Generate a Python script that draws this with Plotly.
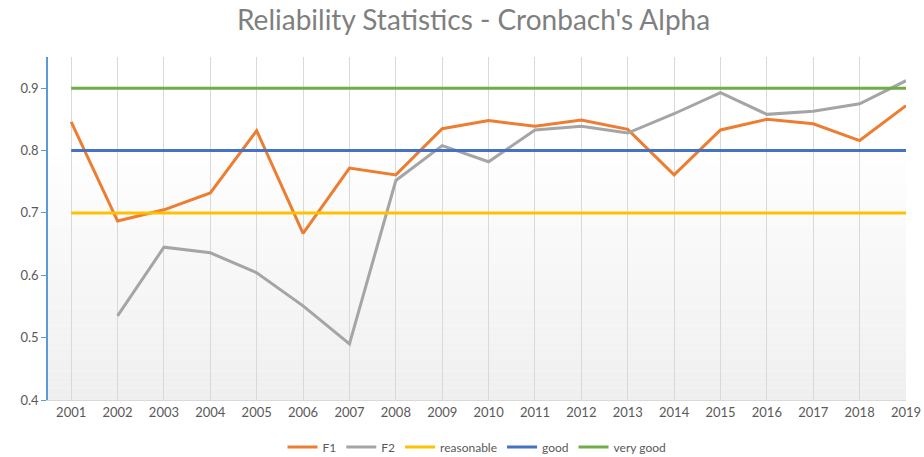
import plotly.graph_objects as go

years = [str(y) for y in range(2001, 2020)]
f1 = [0.846, 0.687, 0.705, 0.732, 0.832, 0.667, 0.772, 0.761, 0.835, 0.848,
      0.839, 0.849, 0.834, 0.761, 0.833, 0.850, 0.843, 0.816, 0.872]
f2 = [None, 0.535, 0.645, 0.636, 0.604, 0.551, 0.490, 0.752, 0.808, 0.782,
      0.833, 0.839, 0.828, 0.859, 0.893, 0.858, 0.863, 0.875, 0.912]
REASONABLE = 0.7
GOOD = 0.8
VERY_GOOD = 0.9
y_ticks = [0.4, 0.5, 0.6, 0.7, 0.8, 0.9]

xs = list(range(len(years)))
fig = go.Figure()

series = [
    ("F1", f1, "#ED7D31"),
    ("F2", f2, "#A5A5A5"),
    ("reasonable", [REASONABLE] * len(years), "#FFC000"),
    ("good", [GOOD] * len(years), "#4472C4"),
    ("very good", [VERY_GOOD] * len(years), "#70AD47"),
]
for name, vals, col in series:
    fig.add_trace(go.Scatter(x=xs, y=vals, name=name, mode="lines",
                             line=dict(color=col, width=3)))

# gradient background of the plot area (stacked bands, below grid)
n = 60
shapes = []
for i in range(n):
    t = i / (n - 1)  # 0 bottom -> 1 top
    g = 0xEF + (0xFF - 0xEF) * min(1.0, t / 0.75)
    g = int(round(g))
    shapes.append(dict(type="rect", xref="paper", yref="paper",
                       x0=0, x1=1, y0=i / n, y1=(i + 1) / n,
                       fillcolor=f"rgb({g},{g},{g})", line=dict(width=0),
                       layer="below"))

fig.update_layout(
    width=924, height=457,
    paper_bgcolor="white", plot_bgcolor="white",
    margin=dict(l=48, r=18, t=57, b=57, autoexpand=False),
    shapes=shapes,
    title=dict(text="Reliability Statistics - Cronbach's Alpha", x=0.5125, xanchor="center",
               y=0.955, yanchor="middle",
               font=dict(family="Lato, Open Sans, sans-serif", size=28, color="#7F7F7F")),
    font=dict(family="Lato, Open Sans, sans-serif", color="#595959", size=12),
    legend=dict(orientation="h", x=0.5, xanchor="center", y=-0.137, yanchor="middle",
                font=dict(size=12, color="#595959"), traceorder="normal"),
    showlegend=True,
)
fig.update_xaxes(
    range=[-0.5, len(years) - 1], tickmode="array", tickvals=xs, ticktext=years,
    showgrid=True, gridcolor="#D9D9D9", gridwidth=1,
    showline=True, linecolor="#D9D9D9", linewidth=1,
    ticks="", zeroline=False, tickfont=dict(size=13, color="#595959"),
    automargin=False,
)
fig.update_yaxes(
    range=[0.4, 0.95], tickmode="array", tickvals=y_ticks,
    ticktext=[f"{v:.1f}" for v in y_ticks],
    showgrid=False, zeroline=False,
    showline=True, linecolor="#5B9BD5", linewidth=1.5,
    ticks="outside", ticklen=5, tickcolor="#5B9BD5",
    tickfont=dict(size=13, color="#595959"),
    automargin=False,
)

fig.write_html("out.html", config={"displayModeBar": False},
               post_script="document.body.style.margin='0';document.body.style.overflow='hidden';")
